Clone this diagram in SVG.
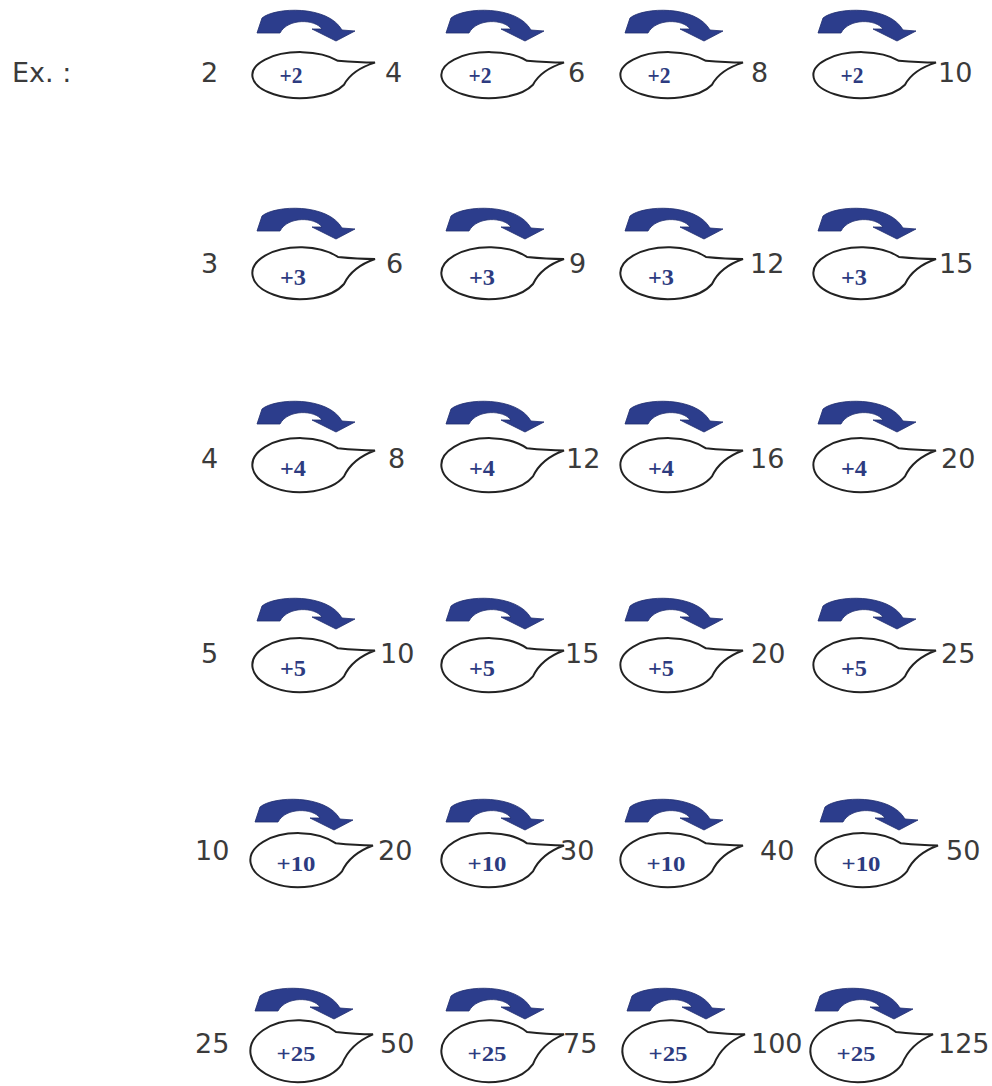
<svg xmlns="http://www.w3.org/2000/svg" xmlns:xlink="http://www.w3.org/1999/xlink" width="992" height="1086" viewBox="0 0 992 1086">
<style>
.num{font-family:"DejaVu Sans",Verdana,sans-serif;font-size:27px;fill:#3b3b3b}
.lbl{font-family:"Liberation Serif","Times New Roman",serif;font-weight:bold;font-size:23px;fill:#2d3b80;text-anchor:middle}
.lbl3{font-size:21px}
.bub{fill:#ffffff;stroke:#222222;stroke-width:2;vector-effect:non-scaling-stroke}
.arr{fill:#2c3d8c;stroke:#1f2d6e;stroke-width:0.8}
</style>
<defs>
<path id="bubble" class="bub" d="M38,-16 Q58,-14 75,-14 Q52,-6 44,11 A48,26 0 1 1 38,-16 Z"/>
<path id="arrow" class="arr" d="M-43,-42 L-38,-57 C-25,-68 28,-70 42,-45 L55,-44 L36,-34 L12,-46 L22,-46 C15,-56 -12,-57 -20,-42 Z"/>
</defs>
<rect width="992" height="1086" fill="#ffffff"/>
<g id="example-label"><text class="num" x="12" y="82">Ex. :</text></g>
<g id="connectors">
<use xlink:href="#arrow" transform="translate(300,75)"/>
<use xlink:href="#arrow" transform="translate(489,75)"/>
<use xlink:href="#arrow" transform="translate(668,75)"/>
<use xlink:href="#arrow" transform="translate(861,75)"/>
<use xlink:href="#arrow" transform="translate(300,273)"/>
<use xlink:href="#arrow" transform="translate(489,273)"/>
<use xlink:href="#arrow" transform="translate(668,273)"/>
<use xlink:href="#arrow" transform="translate(861,273)"/>
<use xlink:href="#arrow" transform="translate(300,466)"/>
<use xlink:href="#arrow" transform="translate(489,466)"/>
<use xlink:href="#arrow" transform="translate(668,466)"/>
<use xlink:href="#arrow" transform="translate(861,466)"/>
<use xlink:href="#arrow" transform="translate(300,663)"/>
<use xlink:href="#arrow" transform="translate(489,663)"/>
<use xlink:href="#arrow" transform="translate(668,663)"/>
<use xlink:href="#arrow" transform="translate(861,663)"/>
<use xlink:href="#arrow" transform="translate(298,864)"/>
<use xlink:href="#arrow" transform="translate(489,864)"/>
<use xlink:href="#arrow" transform="translate(668,864)"/>
<use xlink:href="#arrow" transform="translate(863,864)"/>
<use xlink:href="#arrow" transform="translate(298,1053)"/>
<use xlink:href="#arrow" transform="translate(489,1053)"/>
<use xlink:href="#arrow" transform="translate(670,1053)"/>
<use xlink:href="#arrow" transform="translate(858,1053)"/>
</g>
<!-- Row 1 -->
<g id="row1">
<g id="r1-n0"><text class="num" x="201" y="82">2</text></g>
<g id="r1-b1"><use xlink:href="#bubble" transform="translate(300,75) scale(1,0.885)"/><text class="lbl" x="291" y="83" textLength="23" lengthAdjust="spacingAndGlyphs">+2</text></g>
<g id="r1-n1"><text class="num" x="385" y="82">4</text></g>
<g id="r1-b2"><use xlink:href="#bubble" transform="translate(489,75) scale(1,0.885)"/><text class="lbl" x="480" y="83" textLength="23" lengthAdjust="spacingAndGlyphs">+2</text></g>
<g id="r1-n2"><text class="num" x="568" y="82">6</text></g>
<g id="r1-b3"><use xlink:href="#bubble" transform="translate(668,75) scale(1,0.885)"/><text class="lbl" x="659" y="83" textLength="23" lengthAdjust="spacingAndGlyphs">+2</text></g>
<g id="r1-n3"><text class="num" x="751" y="82">8</text></g>
<g id="r1-b4"><use xlink:href="#bubble" transform="translate(861,75) scale(1,0.885)"/><text class="lbl" x="852" y="83" textLength="23" lengthAdjust="spacingAndGlyphs">+2</text></g>
<g id="r1-n4"><text class="num" x="938" y="82">10</text></g>
</g>
<!-- Row 2 -->
<g id="row2">
<g id="r2-n0"><text class="num" x="201" y="273">3</text></g>
<g id="r2-b1"><use xlink:href="#bubble" transform="translate(300,273)"/><text class="lbl" x="293" y="285" textLength="26" lengthAdjust="spacingAndGlyphs">+3</text></g>
<g id="r2-n1"><text class="num" x="386" y="273">6</text></g>
<g id="r2-b2"><use xlink:href="#bubble" transform="translate(489,273)"/><text class="lbl" x="482" y="285" textLength="26" lengthAdjust="spacingAndGlyphs">+3</text></g>
<g id="r2-n2"><text class="num" x="569" y="273">9</text></g>
<g id="r2-b3"><use xlink:href="#bubble" transform="translate(668,273)"/><text class="lbl" x="661" y="285" textLength="26" lengthAdjust="spacingAndGlyphs">+3</text></g>
<g id="r2-n3"><text class="num" x="750" y="273">12</text></g>
<g id="r2-b4"><use xlink:href="#bubble" transform="translate(861,273)"/><text class="lbl" x="854" y="285" textLength="26" lengthAdjust="spacingAndGlyphs">+3</text></g>
<g id="r2-n4"><text class="num" x="939" y="273">15</text></g>
</g>
<!-- Row 3 -->
<g id="row3">
<g id="r3-n0"><text class="num" x="201" y="468">4</text></g>
<g id="r3-b1"><use xlink:href="#bubble" transform="translate(300,465) scale(1,1.04)"/><text class="lbl" x="293" y="476" textLength="26" lengthAdjust="spacingAndGlyphs">+4</text></g>
<g id="r3-n1"><text class="num" x="388" y="468">8</text></g>
<g id="r3-b2"><use xlink:href="#bubble" transform="translate(489,465) scale(1,1.04)"/><text class="lbl" x="482" y="476" textLength="26" lengthAdjust="spacingAndGlyphs">+4</text></g>
<g id="r3-n2"><text class="num" x="566" y="468">12</text></g>
<g id="r3-b3"><use xlink:href="#bubble" transform="translate(668,465) scale(1,1.04)"/><text class="lbl" x="661" y="476" textLength="26" lengthAdjust="spacingAndGlyphs">+4</text></g>
<g id="r3-n3"><text class="num" x="750" y="468">16</text></g>
<g id="r3-b4"><use xlink:href="#bubble" transform="translate(861,465) scale(1,1.04)"/><text class="lbl" x="854" y="476" textLength="26" lengthAdjust="spacingAndGlyphs">+4</text></g>
<g id="r3-n4"><text class="num" x="941" y="468">20</text></g>
</g>
<!-- Row 4 -->
<g id="row4">
<g id="r4-n0"><text class="num" x="201" y="663">5</text></g>
<g id="r4-b1"><use xlink:href="#bubble" transform="translate(300,665) scale(1,1.04)"/><text class="lbl" x="293" y="676" textLength="26" lengthAdjust="spacingAndGlyphs">+5</text></g>
<g id="r4-n1"><text class="num" x="380" y="663">10</text></g>
<g id="r4-b2"><use xlink:href="#bubble" transform="translate(489,665) scale(1,1.04)"/><text class="lbl" x="482" y="676" textLength="26" lengthAdjust="spacingAndGlyphs">+5</text></g>
<g id="r4-n2"><text class="num" x="565" y="663">15</text></g>
<g id="r4-b3"><use xlink:href="#bubble" transform="translate(668,665) scale(1,1.04)"/><text class="lbl" x="661" y="676" textLength="26" lengthAdjust="spacingAndGlyphs">+5</text></g>
<g id="r4-n3"><text class="num" x="751" y="663">20</text></g>
<g id="r4-b4"><use xlink:href="#bubble" transform="translate(861,665) scale(1,1.04)"/><text class="lbl" x="854" y="676" textLength="26" lengthAdjust="spacingAndGlyphs">+5</text></g>
<g id="r4-n4"><text class="num" x="941" y="663">25</text></g>
</g>
<!-- Row 5 -->
<g id="row5">
<g id="r5-n0"><text class="num" x="195" y="860">10</text></g>
<g id="r5-b1"><use xlink:href="#bubble" transform="translate(298,860) scale(1,1.04)"/><text class="lbl lbl3" x="296" y="871" textLength="39" lengthAdjust="spacingAndGlyphs">+10</text></g>
<g id="r5-n1"><text class="num" x="378" y="860">20</text></g>
<g id="r5-b2"><use xlink:href="#bubble" transform="translate(489,860) scale(1,1.04)"/><text class="lbl lbl3" x="487" y="871" textLength="39" lengthAdjust="spacingAndGlyphs">+10</text></g>
<g id="r5-n2"><text class="num" x="560" y="860">30</text></g>
<g id="r5-b3"><use xlink:href="#bubble" transform="translate(668,860) scale(1,1.04)"/><text class="lbl lbl3" x="666" y="871" textLength="39" lengthAdjust="spacingAndGlyphs">+10</text></g>
<g id="r5-n3"><text class="num" x="760" y="860">40</text></g>
<g id="r5-b4"><use xlink:href="#bubble" transform="translate(863,860) scale(1,1.04)"/><text class="lbl lbl3" x="861" y="871" textLength="39" lengthAdjust="spacingAndGlyphs">+10</text></g>
<g id="r5-n4"><text class="num" x="946" y="860">50</text></g>
</g>
<!-- Row 6 -->
<g id="row6">
<g id="r6-n0"><text class="num" x="195" y="1053">25</text></g>
<g id="r6-b1"><use xlink:href="#bubble" transform="translate(298,1051) scale(1,1.19)"/><text class="lbl lbl3" x="296" y="1061" textLength="39" lengthAdjust="spacingAndGlyphs">+25</text></g>
<g id="r6-n1"><text class="num" x="380" y="1053">50</text></g>
<g id="r6-b2"><use xlink:href="#bubble" transform="translate(489,1051) scale(1,1.19)"/><text class="lbl lbl3" x="487" y="1061" textLength="39" lengthAdjust="spacingAndGlyphs">+25</text></g>
<g id="r6-n2"><text class="num" x="563" y="1053">75</text></g>
<g id="r6-b3"><use xlink:href="#bubble" transform="translate(670,1051) scale(1,1.19)"/><text class="lbl lbl3" x="668" y="1061" textLength="39" lengthAdjust="spacingAndGlyphs">+25</text></g>
<g id="r6-n3"><text class="num" x="751" y="1053">100</text></g>
<g id="r6-b4"><use xlink:href="#bubble" transform="translate(858,1051) scale(1,1.19)"/><text class="lbl lbl3" x="856" y="1061" textLength="39" lengthAdjust="spacingAndGlyphs">+25</text></g>
<g id="r6-n4"><text class="num" x="938" y="1053">125</text></g>
</g>
</svg>
